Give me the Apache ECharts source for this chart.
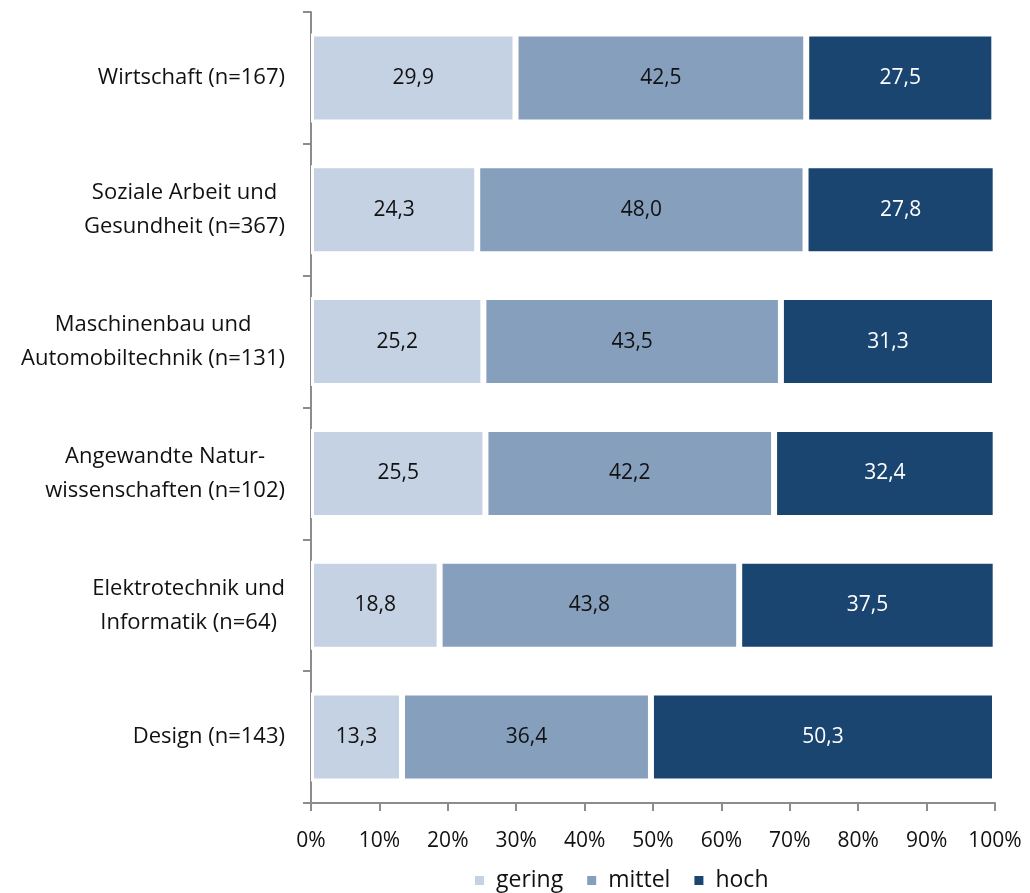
<!DOCTYPE html>
<html>
<head>
<meta charset="utf-8">
<script src="https://cdn.jsdelivr.net/npm/echarts@6/dist/echarts.min.js"></script>
<style>html,body{margin:0;padding:0;background:#fff}#c{width:1030px;height:893px}</style>
</head>
<body>
<div id="c"></div>
<script>
const categories = [
  ['Wirtschaft (n=167)'],
  ['Soziale Arbeit und', 'Gesundheit (n=367)'],
  ['Maschinenbau und', 'Automobiltechnik (n=131)'],
  ['Angewandte Natur-', 'wissenschaften (n=102)'],
  ['Elektrotechnik und', 'Informatik (n=64)'],
  ['Design (n=143)']
];
const seriesNames = ['gering', 'mittel', 'hoch'];
const gering = [29.9, 24.3, 25.2, 25.5, 18.8, 13.3];
const mittel = [42.5, 48.0, 43.5, 42.2, 43.8, 36.4];
const hoch = [27.5, 27.8, 31.3, 32.4, 37.5, 50.3];
const xTicks = [0, 10, 20, 30, 40, 50, 60, 70, 80, 90, 100];

const colors = ['#c5d2e3', '#869fbd', '#1a4571'];
const labelColors = ['#111', '#111', '#fff'];
const FONT = 'Open Sans';

const chart = echarts.init(document.getElementById('c'), null, {renderer: 'canvas'});
const catLabels = categories.map(c => c.join('\n'));
const dataSets = [gering, mittel, hoch];

chart.setOption({
  animation: false,
  textStyle: {fontFamily: FONT},
  grid: {left: 311, right: 35, top: 12, bottom: 90, containLabel: false},
  legend: {
    bottom: -4, left: 468,
    itemWidth: 11, itemHeight: 11, itemGap: 22,
    icon: 'rect',
    textStyle: {fontFamily: FONT, fontSize: 23, color: '#111', padding: [0, 0, 0, 6]},
    data: seriesNames
  },
  xAxis: {
    type: 'value', min: 0, max: 100, interval: 10,
    axisLine: {show: true, lineStyle: {color: '#8c8c8c', width: 2}},
    axisTick: {show: true, length: 8, lineStyle: {color: '#8c8c8c', width: 2}},
    splitLine: {show: false},
    axisLabel: {
      margin: 28, fontSize: 21, color: '#111', fontFamily: FONT,
      formatter: v => v + '%'
    }
  },
  yAxis: {
    type: 'category', inverse: true, data: catLabels,
    axisLine: {show: true, lineStyle: {color: '#8c8c8c', width: 2}},
    axisTick: {show: true, length: 8, lineStyle: {color: '#8c8c8c', width: 2}},
    axisLabel: {
      margin: 26, fontSize: 22, color: '#111', fontFamily: FONT, lineHeight: 34,
      formatter: v => v.split('\n').map(s => '{a|' + s + '}').join('\n'),
      rich: {a: {align: 'center', fontSize: 22, fontFamily: FONT, color: '#111', lineHeight: 34}}
    }
  },
  series: dataSets.map((d, i) => ({
    name: seriesNames[i], type: 'bar', stack: 'total', barWidth: '67.5%',
    itemStyle: {color: colors[i], borderColor: '#fff', borderWidth: 3},
    label: {
      show: true, position: 'inside', fontSize: 21, fontFamily: FONT, color: labelColors[i],
      formatter: p => p.value.toFixed(1).replace('.', ',')
    },
    data: d
  }))
});
</script>
</body>
</html>
